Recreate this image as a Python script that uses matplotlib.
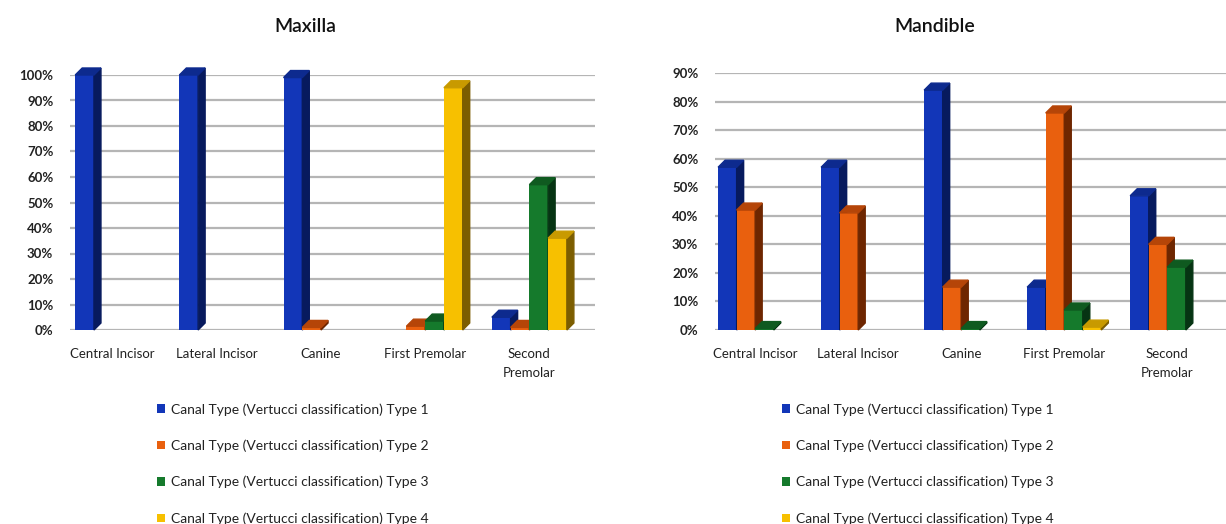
import matplotlib
matplotlib.use("Agg")
import matplotlib.pyplot as plt
from matplotlib.patches import Polygon
import numpy as np

plt.rcParams['font.family'] = ['Lato', 'DejaVu Sans']

# data (percent)
teeth = ['Central Incisor', 'Lateral Incisor', 'Canine', 'First Premolar', 'Second\nPremolar']
series = ['Canal Type (Vertucci classification) Type 1',
          'Canal Type (Vertucci classification) Type 2',
          'Canal Type (Vertucci classification) Type 3',
          'Canal Type (Vertucci classification) Type 4']

maxilla_t1 = [100, 100, 99, 0, 5]
maxilla_t2 = [0, 0, 1, 1.5, 1]
maxilla_t3 = [0, 0, 0, 3.5, 57]
maxilla_t4 = [0, 0, 0, 95, 36]

mandible_t1 = [57, 57, 84, 15, 47]
mandible_t2 = [42, 41, 15, 76, 30]
mandible_t3 = [0.5, 0, 0.5, 7, 22]
mandible_t4 = [0, 0, 0, 1, 0]

front = ['#1236b8', '#e9600e', '#157a2c', '#f7c000']
side = ['#071a5e', '#6e2600', '#063413', '#7c5d00']
top = ['#0d2a8e', '#b54508', '#0f5a20', '#c89a00']

W, H = 1226, 524
fig = plt.figure(figsize=(W / 100, H / 100), dpi=100)


def draw_panel(rect, vals, ymax, xlim, title, title_x, legend_x):
    ax = fig.add_axes(rect)
    ax.set_xlim(*xlim)
    ax.set_ylim(0, ymax)
    # depth of the fake 3d look, 7 px in data units
    ax_w = rect[2] * W
    ax_h = rect[3] * H
    dx = 7 * (xlim[1] - xlim[0]) / ax_w
    dy = 7 * ymax / ax_h

    for g in np.arange(0, ymax + 1, 10):
        ax.axhline(g, color='#b5b5b5', lw=1.6, zorder=0)

    x = np.arange(len(teeth))
    bw = 0.18
    handles = []
    z = 2
    for i, v in enumerate(vals):
        xs = x - 1.5 * bw + i * bw
        b = ax.bar(xs, v, width=bw, color=front[i], zorder=z, clip_on=False,
                   label=series[i])
        handles.append(b)
        for xc, h in zip(xs, v):
            if h <= 0:
                continue
            x0, x1 = xc - bw / 2, xc + bw / 2
            ax.add_patch(Polygon([(x1, 0), (x1 + dx, dy), (x1 + dx, h + dy), (x1, h)],
                                 closed=True, color=side[i], zorder=z, clip_on=False))
            ax.add_patch(Polygon([(x0, h), (x0 + dx, h + dy), (x1 + dx, h + dy), (x1, h)],
                                 closed=True, color=top[i], zorder=z, clip_on=False))
        z += 1

    ax.set_xticks(x)
    ax.set_xticklabels(teeth, fontsize=9.5, color='#222222', linespacing=1.7)
    ax.set_yticks(np.arange(0, ymax + 1, 10))
    ax.set_yticklabels(['%d%%' % t for t in np.arange(0, ymax + 1, 10)],
                       fontsize=9.5, fontweight='bold', color='#222222')
    ax.tick_params(length=0)
    ax.tick_params(axis='x', pad=13)
    ax.tick_params(axis='y', pad=12)
    for s in ax.spines.values():
        s.set_visible(False)

    fig.text(title_x / W, 1 - 27 / H, title, fontsize=14, fontweight='semibold',
             ha='center', va='center', color='#111111')

    leg = fig.legend(handles=handles, labels=series, loc='upper left',
                     bbox_to_anchor=(legend_x / W, 1 - 403 / H), frameon=False,
                     fontsize=10, labelspacing=1.72, handlelength=0.6,
                     handleheight=0.6, handletextpad=0.4, borderpad=0,
                     borderaxespad=0)
    for t in leg.get_texts():
        t.set_color('#222222')
    return ax


draw_panel([70 / W, 1 - 330 / H, 525 / W, 255 / H],
           [maxilla_t1, maxilla_t2, maxilla_t3, maxilla_t4],
           100, (-0.41, 4.63), 'Maxilla', 305, 157)
draw_panel([715 / W, 1 - 330 / H, 511 / W, 257 / H],
           [mandible_t1, mandible_t2, mandible_t3, mandible_t4],
           90, (-0.39, 4.57), 'Mandible', 935, 782)

fig.savefig('out.png', dpi=100)
